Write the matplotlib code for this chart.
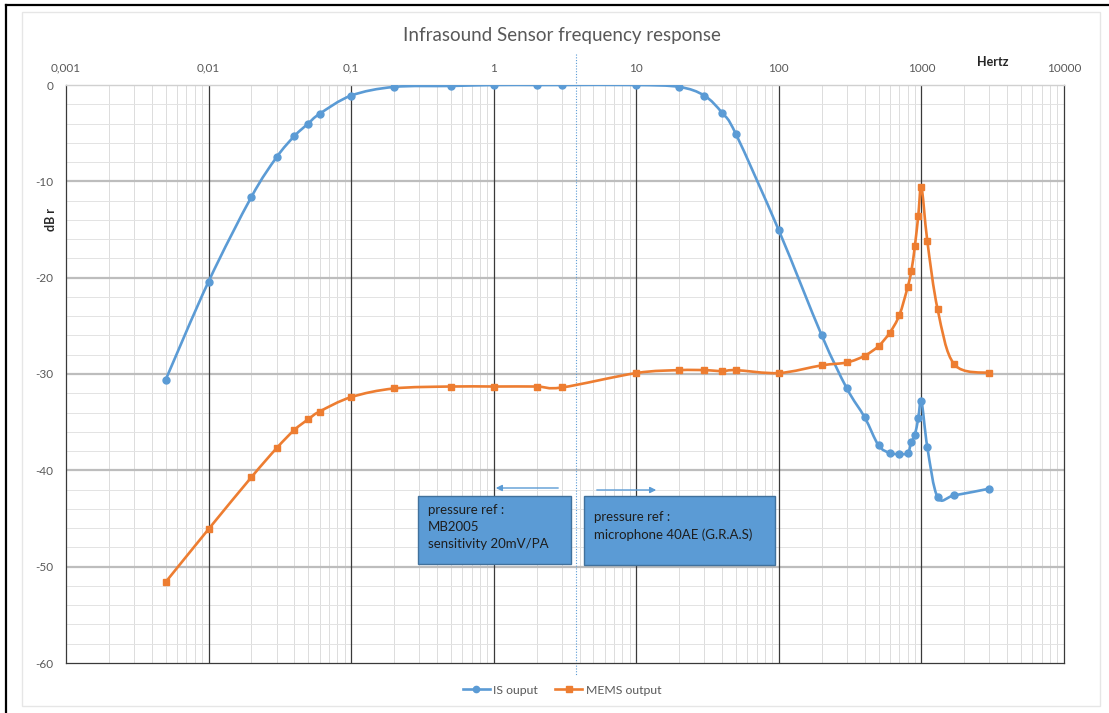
import numpy as np
import matplotlib
matplotlib.use("Agg")
import matplotlib.pyplot as plt
from matplotlib.path import Path
from matplotlib.patches import PathPatch, Rectangle, FancyArrowPatch
from matplotlib.lines import Line2D
from matplotlib.ticker import NullLocator

plt.rcParams['font.family'] = ['Lato', 'DejaVu Sans']

# ---------------- data ----------------
freq_hz = [0.005, 0.01, 0.02, 0.03, 0.04, 0.05, 0.06, 0.1, 0.2, 0.5, 1, 2, 3,
           10, 20, 30, 40, 50, 100, 200, 300, 400, 500, 600, 700, 800, 850,
           900, 950, 1000, 1100, 1300, 1700, 3000]
is_output = [-30.6, -20.4, -11.6, -7.5, -5.3, -4.0, -3.0, -1.1, -0.2, -0.1, 0.0,
             0.0, 0.0, 0.0, -0.2, -1.1, -2.9, -5.1, -15.1, -26.0, -31.5, -34.5,
             -37.4, -38.2, -38.3, -38.2, -37.1, -36.3, -34.6, -32.8, -37.6,
             -42.8, -42.6, -41.9]
mems_output = [-51.6, -46.1, -40.7, -37.7, -35.8, -34.7, -33.9, -32.4, -31.5,
               -31.3, -31.3, -31.3, -31.4, -29.9, -29.6, -29.6, -29.7, -29.6,
               -29.9, -29.1, -28.8, -28.1, -27.1, -25.7, -23.9, -21.0, -19.3,
               -16.7, -13.6, -10.6, -16.2, -23.3, -29.0, -29.9]
series_names = ["IS ouput", "MEMS output"]
x_tick_values = [0.001, 0.01, 0.1, 1, 10, 100, 1000, 10000]
x_tick_labels = ["0,001", "0,01", "0,1", "1", "10", "100", "1000", "10000"]
y_tick_values = [0, -10, -20, -30, -40, -50, -60]
title = "Infrasound Sensor frequency response"
box1_text = "pressure ref :\nMB2005\nsensitivity 20mV/PA"
box2_text = "pressure ref :\nmicrophone 40AE (G.R.A.S)"
divider_freq = 3.8

BLUE = "#5B9BD5"
ORANGE = "#ED7D31"
GRAY_TXT = "#595959"

W, H = 1109, 713
fig = plt.figure(figsize=(W / 100, H / 100), dpi=100)


def fx(px):
    return px / W


def fy(py):
    return 1 - py / H


ax = fig.add_axes([fx(66), fy(663), fx(1064) - fx(66), fy(85) - fy(663)])
ax.set_xscale('log')
ax.set_xlim(0.001, 10000)
ax.set_ylim(-60, 0)


def smooth_path(xs, ys):
    """Excel-like smoothed line: cubic Bezier segments through the points."""
    u = np.log10(np.asarray(xs, float))
    v = np.asarray(ys, float)
    P = np.column_stack([u, v])
    n = len(P)
    verts = [P[0]]
    codes = [Path.MOVETO]
    for i in range(n - 1):
        p_prev = P[i - 1] if i > 0 else P[i]
        p_next2 = P[i + 2] if i + 2 < n else P[i + 1]
        c1 = P[i] + (P[i + 1] - p_prev) / 6.0
        c2 = P[i + 1] - (p_next2 - P[i]) / 6.0
        verts += [c1, c2, P[i + 1]]
        codes += [Path.CURVE4] * 3
    verts = np.array(verts)
    verts[:, 0] = 10 ** verts[:, 0]
    return Path(verts, codes)


# ticks
ax.set_yticks(y_tick_values)
ax.set_yticklabels([str(v) for v in y_tick_values])
ax.set_xticks(x_tick_values)
ax.set_xticklabels(x_tick_labels)
ax.xaxis.set_minor_locator(NullLocator())
ax.yaxis.set_minor_locator(NullLocator())
ax.xaxis.tick_top()
ax.tick_params(axis='x', which='both', length=0, pad=8, labelsize=8.5, labelcolor=GRAY_TXT)
ax.tick_params(axis='y', which='both', length=0, pad=9, labelsize=8.5, labelcolor=GRAY_TXT)

# grid lines drawn explicitly so their stacking order is controlled
for dec in x_tick_values[:-1]:
    for m in range(2, 10):
        ax.axvline(dec * m, color='#DCDCDC', lw=0.7, zorder=0.2)
for yv in np.arange(-60, 0.1, 2):
    if yv % 10 != 0:
        ax.axhline(yv, color='#E3E3E3', lw=0.7, zorder=0.2)
for yv in y_tick_values[1:-1]:
    ax.axhline(yv, color='#BDBDBD', lw=1.6, zorder=0.5)
for xv in x_tick_values[1:-1]:
    ax.axvline(xv, color='#3A3A3A', lw=0.9, zorder=0.8)

for s in ['left', 'right', 'bottom']:
    ax.spines[s].set_color('#3A3A3A')
    ax.spines[s].set_linewidth(0.9)
ax.spines['top'].set_color('#D0D0D0')
ax.spines['top'].set_linewidth(1.0)

# series
for ys, col, mk in [(is_output, BLUE, 'o'), (mems_output, ORANGE, 's')]:
    ax.add_patch(PathPatch(smooth_path(freq_hz, ys), fill=False, edgecolor=col,
                           lw=1.9, zorder=3, capstyle='round', joinstyle='round'))
    ax.plot(freq_hz, ys, linestyle='none', marker=mk, ms=5 if mk == 'o' else 4.8,
            color=col, zorder=4)

# vertical dotted divider
ax.add_line(Line2D([divider_freq, divider_freq], [3.2, -61.3], color=BLUE, lw=0.8,
                   ls=(0, (1, 1.5)), clip_on=False, zorder=2))

# titles and axis labels
fig.text(fx(562), fy(36), title, ha='center', va='center', fontsize=13.5, color=GRAY_TXT)
fig.text(fx(993), fy(62), "Hertz", ha='center', va='center', fontsize=9,
         fontweight='bold', color='#262626')
fig.text(fx(51), fy(219), "dB r", ha='center', va='center', fontsize=9,
         fontweight='bold', color='#262626', rotation=90)

# annotation boxes
for (x0, y0, x1, y1) in [(418, 496, 571, 564), (584, 496, 775, 565)]:
    fig.patches.append(Rectangle((fx(x0), fy(y1)), fx(x1) - fx(x0), fy(y0) - fy(y1),
                                 transform=fig.transFigure, facecolor=BLUE,
                                 edgecolor='#41719C', lw=1.0, zorder=5))
fig.text(fx(428), fy(527), box1_text, ha='left', va='center', fontsize=9.5,
         color='#1E1E1E', linespacing=1.45, zorder=6)
fig.text(fx(594), fy(526), box2_text, ha='left', va='center', fontsize=9.5,
         color='#1E1E1E', linespacing=1.45, zorder=6)

# arrows
for (xa, ya, xb, yb) in [(561, 488, 493, 488), (594, 490, 659, 490)]:
    fig.patches.append(FancyArrowPatch((fx(xa), fy(ya)), (fx(xb), fy(yb)),
                                       transform=fig.transFigure, arrowstyle='-|>',
                                       mutation_scale=9, color=BLUE, lw=1.0, zorder=5))

# legend
handles = [Line2D([], [], color=BLUE, lw=1.9, marker='o', ms=4.5),
           Line2D([], [], color=ORANGE, lw=1.9, marker='s', ms=4.3)]
leg = fig.legend(handles, series_names, loc='center', bbox_to_anchor=(fx(562), fy(690)),
                 ncol=2, frameon=False, fontsize=8.8, handlelength=2.2,
                 handletextpad=0.3, columnspacing=1.4)
for t in leg.get_texts():
    t.set_color(GRAY_TXT)

# outer frame lines
fig.add_artist(Line2D([fx(6), fx(6)], [fy(5), fy(713)], transform=fig.transFigure,
                      color='black', lw=1.6))
fig.add_artist(Line2D([fx(6), fx(1108)], [fy(5), fy(5)], transform=fig.transFigure,
                      color='black', lw=1.6))
fig.patches.append(Rectangle((fx(22), fy(706)), fx(1100) - fx(22), fy(12) - fy(706),
                             transform=fig.transFigure, facecolor='none',
                             edgecolor='#E6E6E6', lw=1.0, zorder=0))

fig.savefig("out.png", dpi=100)
